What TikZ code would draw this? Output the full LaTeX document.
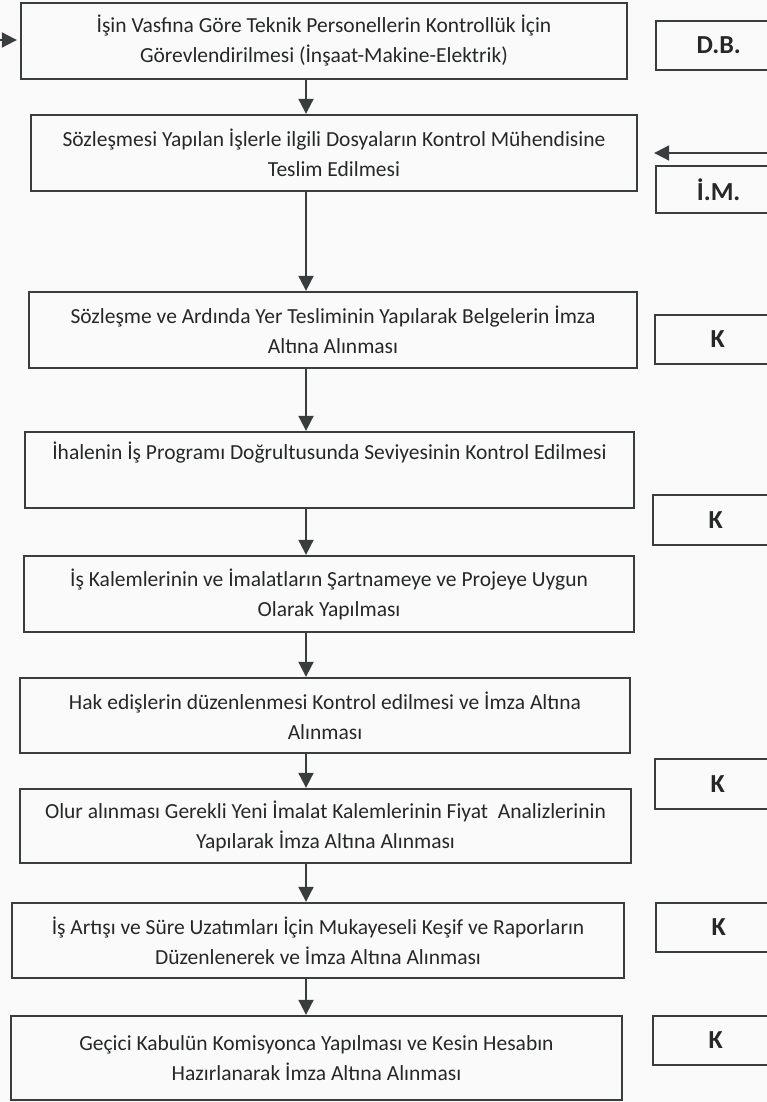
\documentclass[tikz,border=0pt]{standalone}
\usepackage{fontspec}
\setmainfont{Carlito}
\usepackage{xcolor}
\usepackage{tikz}
\usetikzlibrary{arrows.meta,calc}
\definecolor{zemin}{HTML}{FAFAFA}
\definecolor{cizgi}{HTML}{3A3D3E}
\definecolor{yazi}{HTML}{262828}

\begin{document}
\begin{tikzpicture}[x=1pt,y=-1pt,
  adim/.style={draw=cizgi,line width=2.3pt,align=center,text=yazi,
    font=\fontsize{21.5}{30}\selectfont,inner sep=0pt,minimum height=76pt},
  birim/.style={draw=cizgi,line width=2.3pt,anchor=west,minimum width=125pt,
    minimum height=49pt,text=yazi,font=\fontsize{26}{30}\selectfont\bfseries},
  ok/.style={draw=cizgi,line width=1.9pt,-{Triangle[length=15pt,width=15pt]}}]
\useasboundingbox (0,0) rectangle (767,1102);
\clip (0,0) rectangle (767,1102);
\fill[zemin] (0,0) rectangle (767,1102);

\node[adim,minimum width=606pt] (gorev) at (324,41) {İşin Vasfına Göre Teknik Personellerin Kontrollük İçin\\Görevlendirilmesi (İnşaat-Makine-Elektrik)};
\node[adim,minimum width=606pt] (teslim) at (334,153) {Sözleşmesi Yapılan İşlerle ilgili Dosyaların Kontrol Mühendisine\\Teslim Edilmesi};
\node[adim,minimum width=608pt] (sozlesme) at (333,330) {Sözleşme ve Ardında Yer Tesliminin Yapılarak Belgelerin İmza\\Altına Alınması};
\node[adim,minimum width=609pt] (ihale) at (329.5,470) {İhalenin İş Programı Doğrultusunda Seviyesinin Kontrol Edilmesi\\\strut};
\node[adim,minimum width=610pt] (kalem) at (329,594) {İş Kalemlerinin ve İmalatların Şartnameye ve Projeye Uygun\\Olarak Yapılması};
\node[adim,minimum width=610pt,minimum height=75pt] (hakedis) at (325,715.5) {Hak edişlerin düzenlenmesi Kontrol edilmesi ve İmza Altına\\Alınması};
\node[adim,minimum width=611pt,minimum height=74pt] (olur) at (325.5,826) {Olur alınması Gerekli Yeni İmalat Kalemlerinin Fiyat~ Analizlerinin\\Yapılarak İmza Altına Alınması};
\node[adim,minimum width=612pt,minimum height=75pt] (artis) at (318,940.5) {İş Artışı ve Süre Uzatımları İçin Mukayeseli Keşif ve Raporların\\Düzenlenerek ve İmza Altına Alınması};
\node[adim,minimum width=611pt,minimum height=84pt] (gecici) at (316.5,1058) {Geçici Kabulün Komisyonca Yapılması ve Kesin Hesabın\\Hazırlanarak İmza Altına Alınması};

\node[birim,minimum height=49pt] (db) at (655,45.5) {D.B.};
\node[birim,minimum height=47pt] (im) at (655,189.5) {İ.M.};
\node[birim] (k1) at (654,339.5) {K};
\node[birim,minimum height=50pt] (k2) at (652,520) {K};
\node[birim,minimum height=50pt] (k3) at (654,784) {K};
\node[birim] (k4) at (655,927.5) {K};
\node[birim] (k5) at (652,1040.5) {K};

\coordinate (eksen) at (306,0);
\coordinate (solgiris) at (0,40);
\coordinate (saggiris) at (767,153);

\draw[ok,shorten >=3pt] (solgiris) -- (gorev.west |- solgiris);
\draw[ok,shorten >=16pt] (saggiris) -- (teslim.east |- saggiris);
\draw[ok] (gorev.south -| eksen) -- (teslim.north -| eksen);
\draw[ok] (teslim.south -| eksen) -- (sozlesme.north -| eksen);
\draw[ok] (sozlesme.south -| eksen) -- (ihale.north -| eksen);
\draw[ok] (ihale.south -| eksen) -- (kalem.north -| eksen);
\draw[ok] (kalem.south -| eksen) -- (hakedis.north -| eksen);
\draw[ok] (hakedis.south -| eksen) -- (olur.north -| eksen);
\draw[ok] (olur.south -| eksen) -- (artis.north -| eksen);
\draw[ok] (artis.south -| eksen) -- (gecici.north -| eksen);
\end{tikzpicture}
\end{document}
